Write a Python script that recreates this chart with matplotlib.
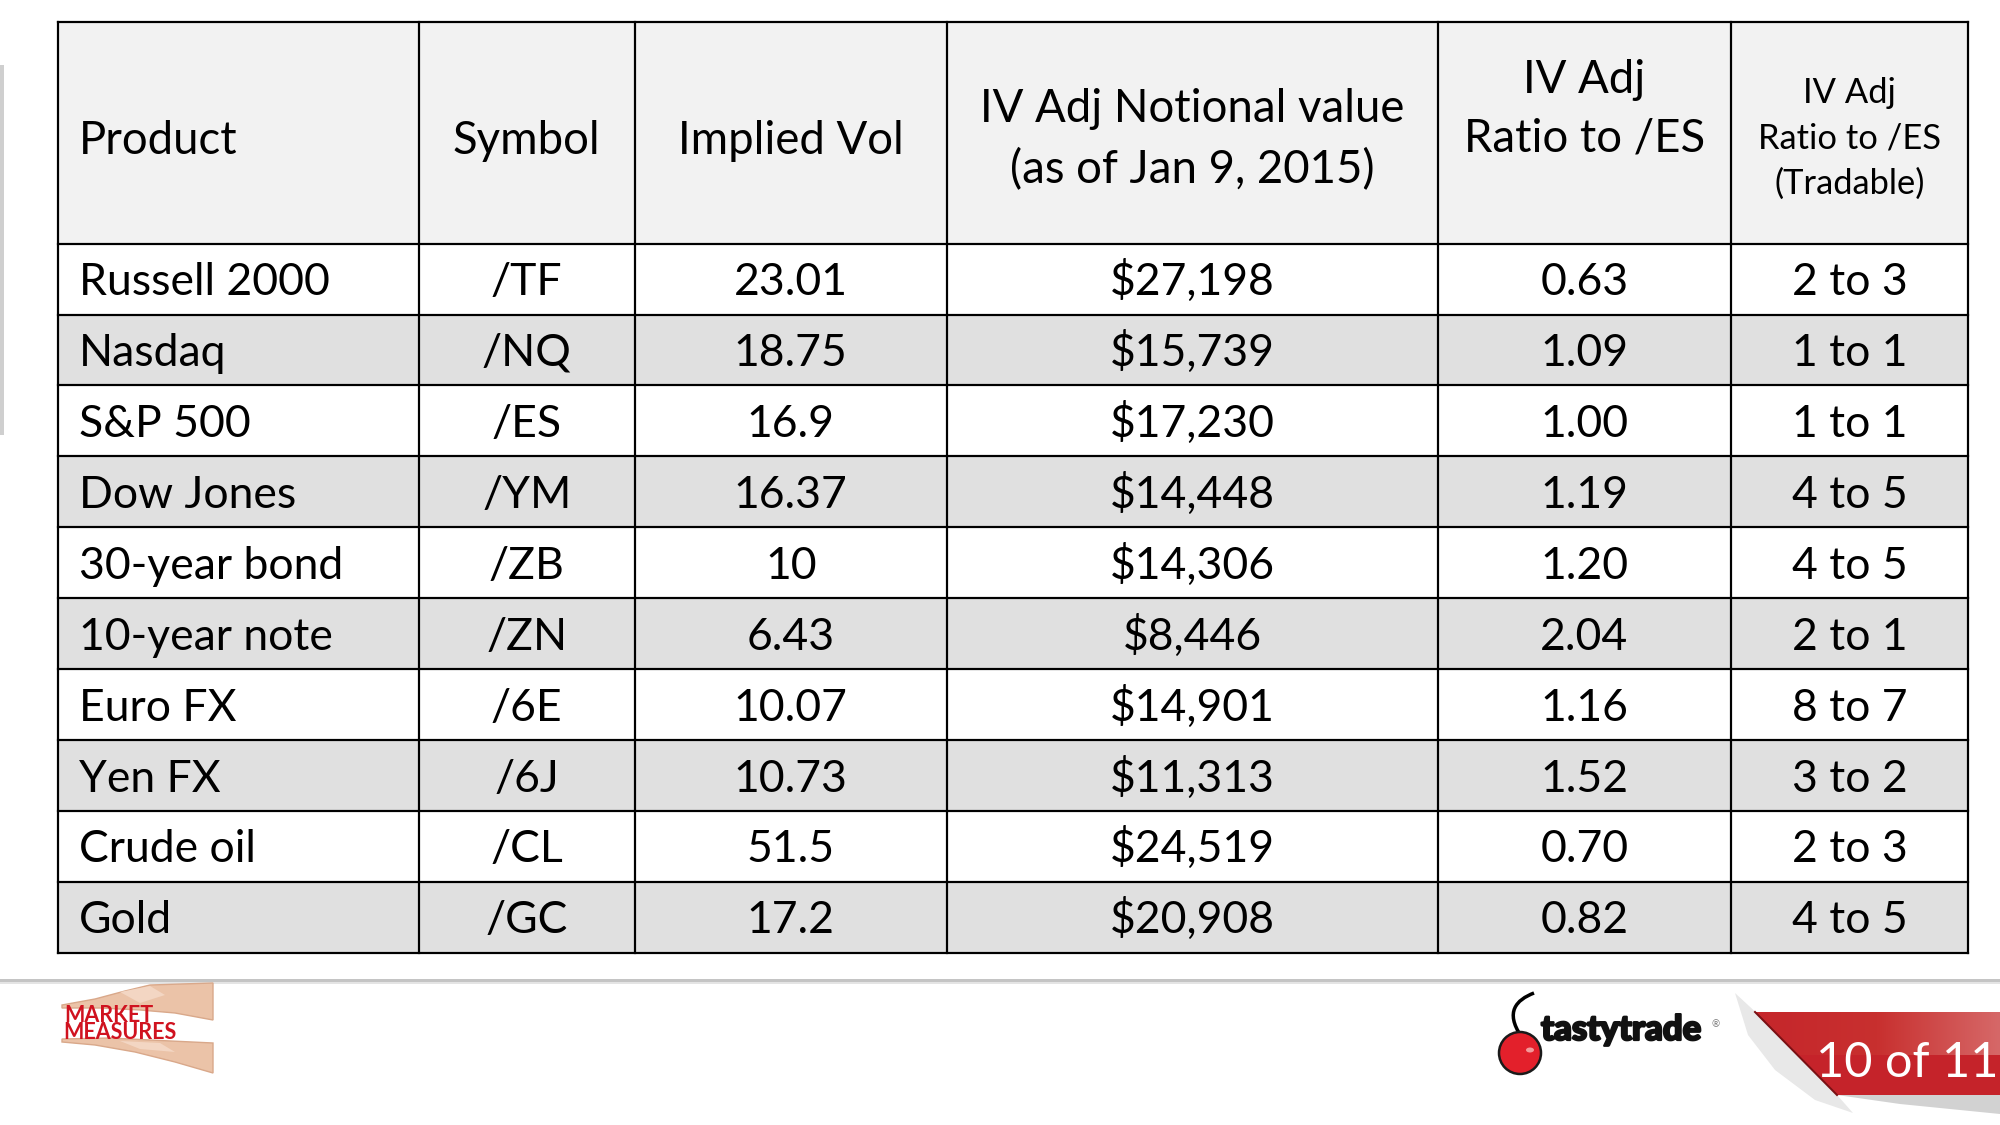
import numpy as np
import matplotlib
matplotlib.use("Agg")
import matplotlib.pyplot as plt
import matplotlib.patheffects as pe
from matplotlib.patches import Rectangle, Polygon, Circle, Ellipse, PathPatch
from matplotlib.path import Path
from matplotlib.colors import LinearSegmentedColormap

plt.rcParams['font.family'] = ['Lato', 'DejaVu Sans']

# table data
products = ["Russell 2000", "Nasdaq", "S&P 500", "Dow Jones", "30-year bond",
            "10-year note", "Euro FX", "Yen FX", "Crude oil", "Gold"]
symbols = ["/TF", "/NQ", "/ES", "/YM", "/ZB", "/ZN", "/6E", "/6J", "/CL", "/GC"]
implied_vol = [23.01, 18.75, 16.9, 16.37, 10, 6.43, 10.07, 10.73, 51.5, 17.2]
notional = [27198, 15739, 17230, 14448, 14306, 8446, 14901, 11313, 24519, 20908]
ratio_es = [0.63, 1.09, 1.00, 1.19, 1.20, 2.04, 1.16, 1.52, 0.70, 0.82]
tradable = ["2 to 3", "1 to 1", "1 to 1", "4 to 5", "4 to 5",
            "2 to 1", "8 to 7", "3 to 2", "2 to 3", "4 to 5"]

headers = ["Product", "Symbol", "Implied Vol",
           "IV Adj Notional value\n(as of Jan 9, 2015)",
           "IV Adj\nRatio to /ES", "IV Adj\nRatio to /ES\n(Tradable)"]

fig = plt.figure(figsize=(20, 11.25), dpi=100)
ax = fig.add_axes([0, 0, 1, 1])
ax.axis("off")

PX = 0.72  # px -> pt at 100 dpi

col_x = [57.5, 418.5, 635, 946.5, 1437.5, 1731, 1968]
head_top, head_bot = 21.7, 243.6
row_h = (952.8 - head_bot) / len(products)
row_y = [head_bot + i * row_h for i in range(len(products) + 1)]

# header background + row shading
ax.add_patch(Rectangle((col_x[0], head_top), col_x[-1] - col_x[0], head_bot - head_top,
                       facecolor="#F2F2F2", edgecolor="none", zorder=1))
for i in range(len(products)):
    fc = "#FFFFFF" if i % 2 == 0 else "#E0E0E0"
    ax.add_patch(Rectangle((col_x[0], row_y[i]), col_x[-1] - col_x[0], row_h,
                           facecolor=fc, edgecolor="none", zorder=1))

# grid lines
for x in col_x:
    ax.plot([x, x], [head_top, row_y[-1]], color="black", lw=2.2 * PX, zorder=3,
            solid_capstyle="projecting")
for y in [head_top] + row_y:
    ax.plot([col_x[0], col_x[-1]], [y, y], color="black", lw=2.2 * PX, zorder=3,
            solid_capstyle="projecting")

# header text (baselines)
body_fs = 32.0
head_fs = 32.8
small_fs = 24.8
left_x = 79
ax.text(left_x, 154, headers[0], fontsize=head_fs, ha="left", va="baseline", zorder=4)
for c in (1, 2):
    ax.text((col_x[c] + col_x[c + 1]) / 2, 154, headers[c], fontsize=head_fs,
            ha="center", va="baseline", zorder=4)
for line, base in zip(headers[3].split("\n"), [122.5, 183.5]):
    ax.text((col_x[3] + col_x[4]) / 2, base, line, fontsize=head_fs,
            ha="center", va="baseline", zorder=4)
for line, base in zip(headers[4].split("\n"), [93.0, 152.0]):
    ax.text((col_x[4] + col_x[5]) / 2, base, line, fontsize=head_fs,
            ha="center", va="baseline", zorder=4)
for line, base in zip(headers[5].split("\n"), [103.0, 148.0, 193.5]):
    ax.text((col_x[5] + col_x[6]) / 2, base, line, fontsize=small_fs,
            ha="center", va="baseline", zorder=4)

# body text
for i in range(len(products)):
    base = row_y[i] + row_h / 2 + 16
    cells = [symbols[i], f"{implied_vol[i]:g}", f"${notional[i]:,}",
             f"{ratio_es[i]:.2f}", tradable[i]]
    ax.text(left_x, base, products[i], fontsize=body_fs, ha="left", va="baseline", zorder=4)
    for c, val in enumerate(cells, start=1):
        ax.text((col_x[c] + col_x[c + 1]) / 2, base, val, fontsize=body_fs,
                ha="center", va="baseline", zorder=4)

# slide decorations: left edge bar and footer rule
ax.add_patch(Rectangle((0, 65), 4, 370, facecolor="#CFCFCF", edgecolor="none"))
ax.plot([0, 2000], [980, 980], color="#C4C4C4", lw=3 * PX)
ax.plot([0, 2000], [982.5, 982.5], color="#E4E4E4", lw=2 * PX)

# market measures logo (hands + red lettering)
skin = "#EBC3A8"
ax.add_patch(Polygon([(62, 1005), (95, 999), (125, 991), (150, 985), (213, 983),
                      (213, 1020), (175, 1013), (140, 1010), (100, 1008), (62, 1008)],
                     facecolor=skin, edgecolor="#D9A88A", lw=1, zorder=2))
ax.add_patch(Polygon([(120, 992), (150, 986), (165, 995), (140, 1003)],
                     facecolor="#F3D6C3", edgecolor="none", zorder=2.1))
ax.add_patch(Polygon([(62, 1039), (110, 1038), (150, 1040), (213, 1043),
                      (213, 1073), (175, 1062), (135, 1052), (95, 1045), (62, 1042)],
                     facecolor=skin, edgecolor="#D9A88A", lw=1, zorder=2))
ax.add_patch(Polygon([(120, 1041), (160, 1043), (175, 1052), (140, 1049)],
                     facecolor="#F3D6C3", edgecolor="none", zorder=2.1))
ax.text(64, 1022, "MARKET", fontsize=15.5, color="#D0121F", fontweight="bold",
        ha="left", va="baseline", zorder=3)
ax.text(63, 1039, "MEASURES", fontsize=15.5, color="#D0121F", fontweight="bold",
        ha="left", va="baseline", zorder=3)

# tastytrade logo
stem = Path([(1521, 1036), (1505, 1012), (1516, 1000), (1534, 993)],
            [Path.MOVETO, Path.CURVE4, Path.CURVE4, Path.CURVE4])
ax.add_patch(PathPatch(stem, facecolor="none", edgecolor="black", lw=3.5 * PX, zorder=3))
ax.add_patch(Circle((1520, 1053), 21, facecolor="#E3202B", edgecolor="#1A1A1A",
                    lw=2.5 * PX, zorder=4))
ax.add_patch(Ellipse((1530, 1050), 8, 5, facecolor="#F39A9A", edgecolor="none", zorder=5))
ax.text(1541, 1040, "tastytrade", fontsize=25, fontweight=900, color="#111111",
        ha="left", va="baseline", zorder=3,
        path_effects=[pe.withStroke(linewidth=1.6, foreground="#111111")])
ax.text(1712, 1027, "®", fontsize=7, color="#777777", ha="left", va="baseline")

# page tab "10 of 11"
ax.add_patch(Polygon([(1735, 993), (1775, 1030), (1815, 1070), (1853, 1113),
                      (1815, 1100), (1775, 1070), (1748, 1035)],
                     facecolor="#E8E8E8", edgecolor="none", zorder=2))
ax.add_patch(Polygon([(1837, 1095), (2000, 1095), (2000, 1114), (1900, 1104)],
                     facecolor="#D2D2D2", edgecolor="none", zorder=2))
band = Polygon([(1755, 1012), (2000, 1012), (2000, 1095), (1837, 1095)],
               facecolor="#C5232A", edgecolor="none", zorder=3)
ax.add_patch(band)
grad_cmap = LinearSegmentedColormap.from_list("tab", ["#C5262B", "#C8302F", "#D66868"])
im = ax.imshow(np.linspace(0, 1, 256).reshape(1, -1), extent=[1755, 2000, 1055, 1012],
               cmap=grad_cmap, aspect="auto", zorder=3.5, interpolation="bilinear")
im.set_clip_path(band)
ax.plot([1755, 1837], [1012, 1095], color="#7A1014", lw=2 * PX, zorder=3.6)
ax.text(1816, 1077, "10 of 11", fontsize=35, color="white", ha="left", va="baseline",
        zorder=5)

ax.set_xlim(0, 2000)
ax.set_ylim(1125, 0)
fig.savefig("out.png", dpi=100, facecolor="white")
